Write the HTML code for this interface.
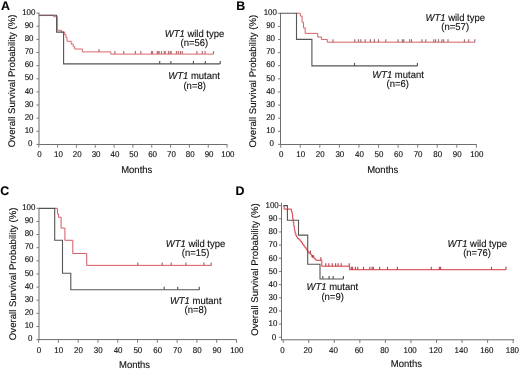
<!DOCTYPE html>
<html><head><meta charset="utf-8"><style>
html,body{margin:0;padding:0;background:#fff;}
body{width:520px;height:369px;overflow:hidden;}
svg{display:block;filter:blur(0.3px);font-family:"Liberation Sans", sans-serif;}
svg text{font-family:"Liberation Sans", sans-serif;text-rendering:geometricPrecision;stroke:#000;stroke-width:0.2px;stroke-opacity:0.6;}
</style></head><body>
<svg width="520" height="369" viewBox="0 0 520 369" font-family="Liberation Sans, sans-serif">
<rect width="520" height="369" fill="#fff"/>
<line x1="39.00" y1="12.70" x2="39.00" y2="144.90" stroke="#6e6e6e" stroke-width="1.0"/>
<line x1="38.50" y1="144.50" x2="227.30" y2="144.50" stroke="#6e6e6e" stroke-width="1.0"/>
<line x1="36.40" y1="144.40" x2="39.00" y2="144.40" stroke="#6e6e6e" stroke-width="0.9"/>
<g transform="translate(30.10,0) scale(0.95,1)"><text x="0" y="146.05" font-size="8.4" text-anchor="middle" font-weight="normal" font-style="normal" fill="#111" >0</text></g>
<line x1="36.40" y1="131.27" x2="39.00" y2="131.27" stroke="#6e6e6e" stroke-width="0.9"/>
<g transform="translate(29.10,0) scale(0.95,1)"><text x="0" y="132.92" font-size="8.4" text-anchor="middle" font-weight="normal" font-style="normal" fill="#111" >10</text></g>
<line x1="36.40" y1="118.14" x2="39.00" y2="118.14" stroke="#6e6e6e" stroke-width="0.9"/>
<g transform="translate(29.10,0) scale(0.95,1)"><text x="0" y="119.79" font-size="8.4" text-anchor="middle" font-weight="normal" font-style="normal" fill="#111" >20</text></g>
<line x1="36.40" y1="105.01" x2="39.00" y2="105.01" stroke="#6e6e6e" stroke-width="0.9"/>
<g transform="translate(29.10,0) scale(0.95,1)"><text x="0" y="106.66" font-size="8.4" text-anchor="middle" font-weight="normal" font-style="normal" fill="#111" >30</text></g>
<line x1="36.40" y1="91.88" x2="39.00" y2="91.88" stroke="#6e6e6e" stroke-width="0.9"/>
<g transform="translate(29.10,0) scale(0.95,1)"><text x="0" y="93.53" font-size="8.4" text-anchor="middle" font-weight="normal" font-style="normal" fill="#111" >40</text></g>
<line x1="36.40" y1="78.75" x2="39.00" y2="78.75" stroke="#6e6e6e" stroke-width="0.9"/>
<g transform="translate(29.10,0) scale(0.95,1)"><text x="0" y="80.40" font-size="8.4" text-anchor="middle" font-weight="normal" font-style="normal" fill="#111" >50</text></g>
<line x1="36.40" y1="65.62" x2="39.00" y2="65.62" stroke="#6e6e6e" stroke-width="0.9"/>
<g transform="translate(29.10,0) scale(0.95,1)"><text x="0" y="67.27" font-size="8.4" text-anchor="middle" font-weight="normal" font-style="normal" fill="#111" >60</text></g>
<line x1="36.40" y1="52.49" x2="39.00" y2="52.49" stroke="#6e6e6e" stroke-width="0.9"/>
<g transform="translate(29.10,0) scale(0.95,1)"><text x="0" y="54.14" font-size="8.4" text-anchor="middle" font-weight="normal" font-style="normal" fill="#111" >70</text></g>
<line x1="36.40" y1="39.36" x2="39.00" y2="39.36" stroke="#6e6e6e" stroke-width="0.9"/>
<g transform="translate(29.10,0) scale(0.95,1)"><text x="0" y="41.01" font-size="8.4" text-anchor="middle" font-weight="normal" font-style="normal" fill="#111" >80</text></g>
<line x1="36.40" y1="26.23" x2="39.00" y2="26.23" stroke="#6e6e6e" stroke-width="0.9"/>
<g transform="translate(29.10,0) scale(0.95,1)"><text x="0" y="27.88" font-size="8.4" text-anchor="middle" font-weight="normal" font-style="normal" fill="#111" >90</text></g>
<line x1="36.40" y1="13.10" x2="39.00" y2="13.10" stroke="#6e6e6e" stroke-width="0.9"/>
<g transform="translate(28.80,0) scale(0.95,1)"><text x="0" y="14.75" font-size="8.4" text-anchor="middle" font-weight="normal" font-style="normal" fill="#111" >100</text></g>
<line x1="38.75" y1="144.50" x2="38.75" y2="147.70" stroke="#6e6e6e" stroke-width="0.9"/>
<g transform="translate(39.55,0) scale(0.95,1)"><text x="0" y="156.50" font-size="8.4" text-anchor="middle" font-weight="normal" font-style="normal" fill="#111" >0</text></g>
<line x1="57.59" y1="144.50" x2="57.59" y2="147.70" stroke="#6e6e6e" stroke-width="0.9"/>
<g transform="translate(58.38,0) scale(0.95,1)"><text x="0" y="156.50" font-size="8.4" text-anchor="middle" font-weight="normal" font-style="normal" fill="#111" >10</text></g>
<line x1="76.42" y1="144.50" x2="76.42" y2="147.70" stroke="#6e6e6e" stroke-width="0.9"/>
<g transform="translate(77.22,0) scale(0.95,1)"><text x="0" y="156.50" font-size="8.4" text-anchor="middle" font-weight="normal" font-style="normal" fill="#111" >20</text></g>
<line x1="95.25" y1="144.50" x2="95.25" y2="147.70" stroke="#6e6e6e" stroke-width="0.9"/>
<g transform="translate(96.05,0) scale(0.95,1)"><text x="0" y="156.50" font-size="8.4" text-anchor="middle" font-weight="normal" font-style="normal" fill="#111" >30</text></g>
<line x1="114.09" y1="144.50" x2="114.09" y2="147.70" stroke="#6e6e6e" stroke-width="0.9"/>
<g transform="translate(114.89,0) scale(0.95,1)"><text x="0" y="156.50" font-size="8.4" text-anchor="middle" font-weight="normal" font-style="normal" fill="#111" >40</text></g>
<line x1="132.93" y1="144.50" x2="132.93" y2="147.70" stroke="#6e6e6e" stroke-width="0.9"/>
<g transform="translate(133.73,0) scale(0.95,1)"><text x="0" y="156.50" font-size="8.4" text-anchor="middle" font-weight="normal" font-style="normal" fill="#111" >50</text></g>
<line x1="151.76" y1="144.50" x2="151.76" y2="147.70" stroke="#6e6e6e" stroke-width="0.9"/>
<g transform="translate(152.56,0) scale(0.95,1)"><text x="0" y="156.50" font-size="8.4" text-anchor="middle" font-weight="normal" font-style="normal" fill="#111" >60</text></g>
<line x1="170.59" y1="144.50" x2="170.59" y2="147.70" stroke="#6e6e6e" stroke-width="0.9"/>
<g transform="translate(171.40,0) scale(0.95,1)"><text x="0" y="156.50" font-size="8.4" text-anchor="middle" font-weight="normal" font-style="normal" fill="#111" >70</text></g>
<line x1="189.43" y1="144.50" x2="189.43" y2="147.70" stroke="#6e6e6e" stroke-width="0.9"/>
<g transform="translate(190.23,0) scale(0.95,1)"><text x="0" y="156.50" font-size="8.4" text-anchor="middle" font-weight="normal" font-style="normal" fill="#111" >80</text></g>
<line x1="208.26" y1="144.50" x2="208.26" y2="147.70" stroke="#6e6e6e" stroke-width="0.9"/>
<g transform="translate(209.06,0) scale(0.95,1)"><text x="0" y="156.50" font-size="8.4" text-anchor="middle" font-weight="normal" font-style="normal" fill="#111" >90</text></g>
<line x1="227.10" y1="144.50" x2="227.10" y2="147.70" stroke="#6e6e6e" stroke-width="0.9"/>
<g transform="translate(227.90,0) scale(0.95,1)"><text x="0" y="156.50" font-size="8.4" text-anchor="middle" font-weight="normal" font-style="normal" fill="#111" >100</text></g>
<g transform="translate(121.20,0) scale(0.96,1)"><text x="0" y="172.60" font-size="9.9" text-anchor="start" font-weight="normal" font-style="normal" fill="#111" >Months</text></g>
<text transform="translate(15.20,80.80) rotate(-90)" x="0" y="0" font-size="9.65" text-anchor="middle" fill="#111">Overall Survival Probability (%)</text>
<text x="1.10" y="10.00" font-size="12.4" text-anchor="start" font-weight="bold" font-style="normal" fill="#000" >A</text>
<line x1="280.50" y1="12.90" x2="280.50" y2="144.90" stroke="#6e6e6e" stroke-width="1.0"/>
<line x1="280.00" y1="144.50" x2="476.70" y2="144.50" stroke="#6e6e6e" stroke-width="1.0"/>
<line x1="277.90" y1="144.40" x2="280.50" y2="144.40" stroke="#6e6e6e" stroke-width="0.9"/>
<g transform="translate(271.60,0) scale(0.95,1)"><text x="0" y="146.05" font-size="8.4" text-anchor="middle" font-weight="normal" font-style="normal" fill="#111" >0</text></g>
<line x1="277.90" y1="131.29" x2="280.50" y2="131.29" stroke="#6e6e6e" stroke-width="0.9"/>
<g transform="translate(270.60,0) scale(0.95,1)"><text x="0" y="132.94" font-size="8.4" text-anchor="middle" font-weight="normal" font-style="normal" fill="#111" >10</text></g>
<line x1="277.90" y1="118.18" x2="280.50" y2="118.18" stroke="#6e6e6e" stroke-width="0.9"/>
<g transform="translate(270.60,0) scale(0.95,1)"><text x="0" y="119.83" font-size="8.4" text-anchor="middle" font-weight="normal" font-style="normal" fill="#111" >20</text></g>
<line x1="277.90" y1="105.07" x2="280.50" y2="105.07" stroke="#6e6e6e" stroke-width="0.9"/>
<g transform="translate(270.60,0) scale(0.95,1)"><text x="0" y="106.72" font-size="8.4" text-anchor="middle" font-weight="normal" font-style="normal" fill="#111" >30</text></g>
<line x1="277.90" y1="91.96" x2="280.50" y2="91.96" stroke="#6e6e6e" stroke-width="0.9"/>
<g transform="translate(270.60,0) scale(0.95,1)"><text x="0" y="93.61" font-size="8.4" text-anchor="middle" font-weight="normal" font-style="normal" fill="#111" >40</text></g>
<line x1="277.90" y1="78.85" x2="280.50" y2="78.85" stroke="#6e6e6e" stroke-width="0.9"/>
<g transform="translate(270.60,0) scale(0.95,1)"><text x="0" y="80.50" font-size="8.4" text-anchor="middle" font-weight="normal" font-style="normal" fill="#111" >50</text></g>
<line x1="277.90" y1="65.74" x2="280.50" y2="65.74" stroke="#6e6e6e" stroke-width="0.9"/>
<g transform="translate(270.60,0) scale(0.95,1)"><text x="0" y="67.39" font-size="8.4" text-anchor="middle" font-weight="normal" font-style="normal" fill="#111" >60</text></g>
<line x1="277.90" y1="52.63" x2="280.50" y2="52.63" stroke="#6e6e6e" stroke-width="0.9"/>
<g transform="translate(270.60,0) scale(0.95,1)"><text x="0" y="54.28" font-size="8.4" text-anchor="middle" font-weight="normal" font-style="normal" fill="#111" >70</text></g>
<line x1="277.90" y1="39.52" x2="280.50" y2="39.52" stroke="#6e6e6e" stroke-width="0.9"/>
<g transform="translate(270.60,0) scale(0.95,1)"><text x="0" y="41.17" font-size="8.4" text-anchor="middle" font-weight="normal" font-style="normal" fill="#111" >80</text></g>
<line x1="277.90" y1="26.41" x2="280.50" y2="26.41" stroke="#6e6e6e" stroke-width="0.9"/>
<g transform="translate(270.60,0) scale(0.95,1)"><text x="0" y="28.06" font-size="8.4" text-anchor="middle" font-weight="normal" font-style="normal" fill="#111" >90</text></g>
<line x1="277.90" y1="13.30" x2="280.50" y2="13.30" stroke="#6e6e6e" stroke-width="0.9"/>
<g transform="translate(270.30,0) scale(0.95,1)"><text x="0" y="14.95" font-size="8.4" text-anchor="middle" font-weight="normal" font-style="normal" fill="#111" >100</text></g>
<line x1="280.70" y1="144.50" x2="280.70" y2="147.70" stroke="#6e6e6e" stroke-width="0.9"/>
<g transform="translate(281.10,0) scale(0.95,1)"><text x="0" y="156.50" font-size="8.4" text-anchor="middle" font-weight="normal" font-style="normal" fill="#111" >0</text></g>
<line x1="300.27" y1="144.50" x2="300.27" y2="147.70" stroke="#6e6e6e" stroke-width="0.9"/>
<g transform="translate(300.67,0) scale(0.95,1)"><text x="0" y="156.50" font-size="8.4" text-anchor="middle" font-weight="normal" font-style="normal" fill="#111" >10</text></g>
<line x1="319.84" y1="144.50" x2="319.84" y2="147.70" stroke="#6e6e6e" stroke-width="0.9"/>
<g transform="translate(320.24,0) scale(0.95,1)"><text x="0" y="156.50" font-size="8.4" text-anchor="middle" font-weight="normal" font-style="normal" fill="#111" >20</text></g>
<line x1="339.41" y1="144.50" x2="339.41" y2="147.70" stroke="#6e6e6e" stroke-width="0.9"/>
<g transform="translate(339.81,0) scale(0.95,1)"><text x="0" y="156.50" font-size="8.4" text-anchor="middle" font-weight="normal" font-style="normal" fill="#111" >30</text></g>
<line x1="358.98" y1="144.50" x2="358.98" y2="147.70" stroke="#6e6e6e" stroke-width="0.9"/>
<g transform="translate(359.38,0) scale(0.95,1)"><text x="0" y="156.50" font-size="8.4" text-anchor="middle" font-weight="normal" font-style="normal" fill="#111" >40</text></g>
<line x1="378.55" y1="144.50" x2="378.55" y2="147.70" stroke="#6e6e6e" stroke-width="0.9"/>
<g transform="translate(378.95,0) scale(0.95,1)"><text x="0" y="156.50" font-size="8.4" text-anchor="middle" font-weight="normal" font-style="normal" fill="#111" >50</text></g>
<line x1="398.12" y1="144.50" x2="398.12" y2="147.70" stroke="#6e6e6e" stroke-width="0.9"/>
<g transform="translate(398.52,0) scale(0.95,1)"><text x="0" y="156.50" font-size="8.4" text-anchor="middle" font-weight="normal" font-style="normal" fill="#111" >60</text></g>
<line x1="417.69" y1="144.50" x2="417.69" y2="147.70" stroke="#6e6e6e" stroke-width="0.9"/>
<g transform="translate(418.09,0) scale(0.95,1)"><text x="0" y="156.50" font-size="8.4" text-anchor="middle" font-weight="normal" font-style="normal" fill="#111" >70</text></g>
<line x1="437.26" y1="144.50" x2="437.26" y2="147.70" stroke="#6e6e6e" stroke-width="0.9"/>
<g transform="translate(437.66,0) scale(0.95,1)"><text x="0" y="156.50" font-size="8.4" text-anchor="middle" font-weight="normal" font-style="normal" fill="#111" >80</text></g>
<line x1="456.83" y1="144.50" x2="456.83" y2="147.70" stroke="#6e6e6e" stroke-width="0.9"/>
<g transform="translate(457.23,0) scale(0.95,1)"><text x="0" y="156.50" font-size="8.4" text-anchor="middle" font-weight="normal" font-style="normal" fill="#111" >90</text></g>
<line x1="476.40" y1="144.50" x2="476.40" y2="147.70" stroke="#6e6e6e" stroke-width="0.9"/>
<g transform="translate(476.80,0) scale(0.95,1)"><text x="0" y="156.50" font-size="8.4" text-anchor="middle" font-weight="normal" font-style="normal" fill="#111" >100</text></g>
<g transform="translate(367.20,0) scale(0.96,1)"><text x="0" y="173.30" font-size="9.9" text-anchor="start" font-weight="normal" font-style="normal" fill="#111" >Months</text></g>
<text transform="translate(256.30,81.10) rotate(-90)" x="0" y="0" font-size="9.65" text-anchor="middle" fill="#111">Overall Survival Probability (%)</text>
<text x="236.20" y="9.80" font-size="12.4" text-anchor="start" font-weight="bold" font-style="normal" fill="#000" >B</text>
<line x1="39.00" y1="207.90" x2="39.00" y2="340.10" stroke="#6e6e6e" stroke-width="1.0"/>
<line x1="38.50" y1="339.60" x2="236.70" y2="339.60" stroke="#6e6e6e" stroke-width="1.0"/>
<line x1="36.40" y1="339.60" x2="39.00" y2="339.60" stroke="#6e6e6e" stroke-width="0.9"/>
<g transform="translate(30.10,0) scale(0.95,1)"><text x="0" y="341.25" font-size="8.4" text-anchor="middle" font-weight="normal" font-style="normal" fill="#111" >0</text></g>
<line x1="36.40" y1="326.47" x2="39.00" y2="326.47" stroke="#6e6e6e" stroke-width="0.9"/>
<g transform="translate(29.10,0) scale(0.95,1)"><text x="0" y="328.12" font-size="8.4" text-anchor="middle" font-weight="normal" font-style="normal" fill="#111" >10</text></g>
<line x1="36.40" y1="313.34" x2="39.00" y2="313.34" stroke="#6e6e6e" stroke-width="0.9"/>
<g transform="translate(29.10,0) scale(0.95,1)"><text x="0" y="314.99" font-size="8.4" text-anchor="middle" font-weight="normal" font-style="normal" fill="#111" >20</text></g>
<line x1="36.40" y1="300.21" x2="39.00" y2="300.21" stroke="#6e6e6e" stroke-width="0.9"/>
<g transform="translate(29.10,0) scale(0.95,1)"><text x="0" y="301.86" font-size="8.4" text-anchor="middle" font-weight="normal" font-style="normal" fill="#111" >30</text></g>
<line x1="36.40" y1="287.08" x2="39.00" y2="287.08" stroke="#6e6e6e" stroke-width="0.9"/>
<g transform="translate(29.10,0) scale(0.95,1)"><text x="0" y="288.73" font-size="8.4" text-anchor="middle" font-weight="normal" font-style="normal" fill="#111" >40</text></g>
<line x1="36.40" y1="273.95" x2="39.00" y2="273.95" stroke="#6e6e6e" stroke-width="0.9"/>
<g transform="translate(29.10,0) scale(0.95,1)"><text x="0" y="275.60" font-size="8.4" text-anchor="middle" font-weight="normal" font-style="normal" fill="#111" >50</text></g>
<line x1="36.40" y1="260.82" x2="39.00" y2="260.82" stroke="#6e6e6e" stroke-width="0.9"/>
<g transform="translate(29.10,0) scale(0.95,1)"><text x="0" y="262.47" font-size="8.4" text-anchor="middle" font-weight="normal" font-style="normal" fill="#111" >60</text></g>
<line x1="36.40" y1="247.69" x2="39.00" y2="247.69" stroke="#6e6e6e" stroke-width="0.9"/>
<g transform="translate(29.10,0) scale(0.95,1)"><text x="0" y="249.34" font-size="8.4" text-anchor="middle" font-weight="normal" font-style="normal" fill="#111" >70</text></g>
<line x1="36.40" y1="234.56" x2="39.00" y2="234.56" stroke="#6e6e6e" stroke-width="0.9"/>
<g transform="translate(29.10,0) scale(0.95,1)"><text x="0" y="236.21" font-size="8.4" text-anchor="middle" font-weight="normal" font-style="normal" fill="#111" >80</text></g>
<line x1="36.40" y1="221.43" x2="39.00" y2="221.43" stroke="#6e6e6e" stroke-width="0.9"/>
<g transform="translate(29.10,0) scale(0.95,1)"><text x="0" y="223.08" font-size="8.4" text-anchor="middle" font-weight="normal" font-style="normal" fill="#111" >90</text></g>
<line x1="36.40" y1="208.30" x2="39.00" y2="208.30" stroke="#6e6e6e" stroke-width="0.9"/>
<g transform="translate(28.80,0) scale(0.95,1)"><text x="0" y="209.95" font-size="8.4" text-anchor="middle" font-weight="normal" font-style="normal" fill="#111" >100</text></g>
<line x1="38.60" y1="339.60" x2="38.60" y2="342.80" stroke="#6e6e6e" stroke-width="0.9"/>
<g transform="translate(38.90,0) scale(0.95,1)"><text x="0" y="352.80" font-size="8.4" text-anchor="middle" font-weight="normal" font-style="normal" fill="#111" >0</text></g>
<line x1="58.39" y1="339.60" x2="58.39" y2="342.80" stroke="#6e6e6e" stroke-width="0.9"/>
<g transform="translate(58.69,0) scale(0.95,1)"><text x="0" y="352.80" font-size="8.4" text-anchor="middle" font-weight="normal" font-style="normal" fill="#111" >10</text></g>
<line x1="78.18" y1="339.60" x2="78.18" y2="342.80" stroke="#6e6e6e" stroke-width="0.9"/>
<g transform="translate(78.48,0) scale(0.95,1)"><text x="0" y="352.80" font-size="8.4" text-anchor="middle" font-weight="normal" font-style="normal" fill="#111" >20</text></g>
<line x1="97.97" y1="339.60" x2="97.97" y2="342.80" stroke="#6e6e6e" stroke-width="0.9"/>
<g transform="translate(98.27,0) scale(0.95,1)"><text x="0" y="352.80" font-size="8.4" text-anchor="middle" font-weight="normal" font-style="normal" fill="#111" >30</text></g>
<line x1="117.76" y1="339.60" x2="117.76" y2="342.80" stroke="#6e6e6e" stroke-width="0.9"/>
<g transform="translate(118.06,0) scale(0.95,1)"><text x="0" y="352.80" font-size="8.4" text-anchor="middle" font-weight="normal" font-style="normal" fill="#111" >40</text></g>
<line x1="137.55" y1="339.60" x2="137.55" y2="342.80" stroke="#6e6e6e" stroke-width="0.9"/>
<g transform="translate(137.85,0) scale(0.95,1)"><text x="0" y="352.80" font-size="8.4" text-anchor="middle" font-weight="normal" font-style="normal" fill="#111" >50</text></g>
<line x1="157.34" y1="339.60" x2="157.34" y2="342.80" stroke="#6e6e6e" stroke-width="0.9"/>
<g transform="translate(157.64,0) scale(0.95,1)"><text x="0" y="352.80" font-size="8.4" text-anchor="middle" font-weight="normal" font-style="normal" fill="#111" >60</text></g>
<line x1="177.13" y1="339.60" x2="177.13" y2="342.80" stroke="#6e6e6e" stroke-width="0.9"/>
<g transform="translate(177.43,0) scale(0.95,1)"><text x="0" y="352.80" font-size="8.4" text-anchor="middle" font-weight="normal" font-style="normal" fill="#111" >70</text></g>
<line x1="196.92" y1="339.60" x2="196.92" y2="342.80" stroke="#6e6e6e" stroke-width="0.9"/>
<g transform="translate(197.22,0) scale(0.95,1)"><text x="0" y="352.80" font-size="8.4" text-anchor="middle" font-weight="normal" font-style="normal" fill="#111" >80</text></g>
<line x1="216.71" y1="339.60" x2="216.71" y2="342.80" stroke="#6e6e6e" stroke-width="0.9"/>
<g transform="translate(217.01,0) scale(0.95,1)"><text x="0" y="352.80" font-size="8.4" text-anchor="middle" font-weight="normal" font-style="normal" fill="#111" >90</text></g>
<line x1="236.50" y1="339.60" x2="236.50" y2="342.80" stroke="#6e6e6e" stroke-width="0.9"/>
<g transform="translate(236.80,0) scale(0.95,1)"><text x="0" y="352.80" font-size="8.4" text-anchor="middle" font-weight="normal" font-style="normal" fill="#111" >100</text></g>
<g transform="translate(119.00,0) scale(0.96,1)"><text x="0" y="367.80" font-size="9.9" text-anchor="start" font-weight="normal" font-style="normal" fill="#111" >Months</text></g>
<text transform="translate(16.00,273.80) rotate(-90)" x="0" y="0" font-size="9.65" text-anchor="middle" fill="#111">Overall Survival Probability (%)</text>
<text x="0.30" y="195.20" font-size="12.4" text-anchor="start" font-weight="bold" font-style="normal" fill="#000" >C</text>
<line x1="281.50" y1="202.80" x2="281.50" y2="340.30" stroke="#6e6e6e" stroke-width="1.0"/>
<line x1="281.00" y1="339.80" x2="514.20" y2="339.80" stroke="#6e6e6e" stroke-width="1.0"/>
<line x1="278.90" y1="337.30" x2="281.50" y2="337.30" stroke="#6e6e6e" stroke-width="0.9"/>
<g transform="translate(274.05,0) scale(0.95,1)"><text x="0" y="339.65" font-size="8.4" text-anchor="middle" font-weight="normal" font-style="normal" fill="#111" >0</text></g>
<line x1="278.90" y1="324.13" x2="281.50" y2="324.13" stroke="#6e6e6e" stroke-width="0.9"/>
<g transform="translate(273.00,0) scale(0.95,1)"><text x="0" y="326.48" font-size="8.4" text-anchor="middle" font-weight="normal" font-style="normal" fill="#111" >10</text></g>
<line x1="278.90" y1="310.96" x2="281.50" y2="310.96" stroke="#6e6e6e" stroke-width="0.9"/>
<g transform="translate(273.00,0) scale(0.95,1)"><text x="0" y="313.31" font-size="8.4" text-anchor="middle" font-weight="normal" font-style="normal" fill="#111" >20</text></g>
<line x1="278.90" y1="297.79" x2="281.50" y2="297.79" stroke="#6e6e6e" stroke-width="0.9"/>
<g transform="translate(273.00,0) scale(0.95,1)"><text x="0" y="300.14" font-size="8.4" text-anchor="middle" font-weight="normal" font-style="normal" fill="#111" >30</text></g>
<line x1="278.90" y1="284.62" x2="281.50" y2="284.62" stroke="#6e6e6e" stroke-width="0.9"/>
<g transform="translate(273.00,0) scale(0.95,1)"><text x="0" y="286.97" font-size="8.4" text-anchor="middle" font-weight="normal" font-style="normal" fill="#111" >40</text></g>
<line x1="278.90" y1="271.45" x2="281.50" y2="271.45" stroke="#6e6e6e" stroke-width="0.9"/>
<g transform="translate(273.00,0) scale(0.95,1)"><text x="0" y="273.80" font-size="8.4" text-anchor="middle" font-weight="normal" font-style="normal" fill="#111" >50</text></g>
<line x1="278.90" y1="258.28" x2="281.50" y2="258.28" stroke="#6e6e6e" stroke-width="0.9"/>
<g transform="translate(273.00,0) scale(0.95,1)"><text x="0" y="260.63" font-size="8.4" text-anchor="middle" font-weight="normal" font-style="normal" fill="#111" >60</text></g>
<line x1="278.90" y1="245.11" x2="281.50" y2="245.11" stroke="#6e6e6e" stroke-width="0.9"/>
<g transform="translate(273.00,0) scale(0.95,1)"><text x="0" y="247.46" font-size="8.4" text-anchor="middle" font-weight="normal" font-style="normal" fill="#111" >70</text></g>
<line x1="278.90" y1="231.94" x2="281.50" y2="231.94" stroke="#6e6e6e" stroke-width="0.9"/>
<g transform="translate(273.00,0) scale(0.95,1)"><text x="0" y="234.29" font-size="8.4" text-anchor="middle" font-weight="normal" font-style="normal" fill="#111" >80</text></g>
<line x1="278.90" y1="218.77" x2="281.50" y2="218.77" stroke="#6e6e6e" stroke-width="0.9"/>
<g transform="translate(273.00,0) scale(0.95,1)"><text x="0" y="221.12" font-size="8.4" text-anchor="middle" font-weight="normal" font-style="normal" fill="#111" >90</text></g>
<line x1="278.90" y1="205.60" x2="281.50" y2="205.60" stroke="#6e6e6e" stroke-width="0.9"/>
<g transform="translate(272.15,0) scale(0.95,1)"><text x="0" y="207.95" font-size="8.4" text-anchor="middle" font-weight="normal" font-style="normal" fill="#111" >100</text></g>
<line x1="283.20" y1="339.80" x2="283.20" y2="343.00" stroke="#6e6e6e" stroke-width="0.9"/>
<g transform="translate(282.40,0) scale(0.95,1)"><text x="0" y="352.60" font-size="8.4" text-anchor="middle" font-weight="normal" font-style="normal" fill="#111" >0</text></g>
<line x1="308.75" y1="339.80" x2="308.75" y2="343.00" stroke="#6e6e6e" stroke-width="0.9"/>
<g transform="translate(307.95,0) scale(0.95,1)"><text x="0" y="352.60" font-size="8.4" text-anchor="middle" font-weight="normal" font-style="normal" fill="#111" >20</text></g>
<line x1="334.30" y1="339.80" x2="334.30" y2="343.00" stroke="#6e6e6e" stroke-width="0.9"/>
<g transform="translate(333.50,0) scale(0.95,1)"><text x="0" y="352.60" font-size="8.4" text-anchor="middle" font-weight="normal" font-style="normal" fill="#111" >40</text></g>
<line x1="359.85" y1="339.80" x2="359.85" y2="343.00" stroke="#6e6e6e" stroke-width="0.9"/>
<g transform="translate(359.05,0) scale(0.95,1)"><text x="0" y="352.60" font-size="8.4" text-anchor="middle" font-weight="normal" font-style="normal" fill="#111" >60</text></g>
<line x1="385.40" y1="339.80" x2="385.40" y2="343.00" stroke="#6e6e6e" stroke-width="0.9"/>
<g transform="translate(384.60,0) scale(0.95,1)"><text x="0" y="352.60" font-size="8.4" text-anchor="middle" font-weight="normal" font-style="normal" fill="#111" >80</text></g>
<line x1="410.95" y1="339.80" x2="410.95" y2="343.00" stroke="#6e6e6e" stroke-width="0.9"/>
<g transform="translate(410.15,0) scale(0.95,1)"><text x="0" y="352.60" font-size="8.4" text-anchor="middle" font-weight="normal" font-style="normal" fill="#111" >100</text></g>
<line x1="436.50" y1="339.80" x2="436.50" y2="343.00" stroke="#6e6e6e" stroke-width="0.9"/>
<g transform="translate(435.70,0) scale(0.95,1)"><text x="0" y="352.60" font-size="8.4" text-anchor="middle" font-weight="normal" font-style="normal" fill="#111" >120</text></g>
<line x1="462.05" y1="339.80" x2="462.05" y2="343.00" stroke="#6e6e6e" stroke-width="0.9"/>
<g transform="translate(461.25,0) scale(0.95,1)"><text x="0" y="352.60" font-size="8.4" text-anchor="middle" font-weight="normal" font-style="normal" fill="#111" >140</text></g>
<line x1="487.60" y1="339.80" x2="487.60" y2="343.00" stroke="#6e6e6e" stroke-width="0.9"/>
<g transform="translate(486.80,0) scale(0.95,1)"><text x="0" y="352.60" font-size="8.4" text-anchor="middle" font-weight="normal" font-style="normal" fill="#111" >160</text></g>
<line x1="513.15" y1="339.80" x2="513.15" y2="343.00" stroke="#6e6e6e" stroke-width="0.9"/>
<g transform="translate(512.35,0) scale(0.95,1)"><text x="0" y="352.60" font-size="8.4" text-anchor="middle" font-weight="normal" font-style="normal" fill="#111" >180</text></g>
<g transform="translate(390.80,0) scale(0.96,1)"><text x="0" y="367.30" font-size="9.9" text-anchor="start" font-weight="normal" font-style="normal" fill="#111" >Months</text></g>
<text transform="translate(257.80,269.50) rotate(-90)" x="0" y="0" font-size="9.65" text-anchor="middle" fill="#111">Overall Survival Probability (%)</text>
<text x="235.60" y="195.00" font-size="12.4" text-anchor="start" font-weight="bold" font-style="normal" fill="#000" >D</text>
<polyline points="38.80,15.30 53.60,15.30 53.60,16.70 57.30,16.70 57.30,30.30 61.60,30.30 61.60,32.20 64.60,32.20 64.60,34.60 66.00,34.60 66.00,37.50 67.00,37.50 67.00,41.30 71.30,41.30 71.30,44.20 73.30,44.20 73.30,46.60 74.70,46.60 74.70,49.00 82.40,49.00 82.40,51.90 110.80,51.90 110.80,54.10 213.70,54.10 213.70,54.10" fill="none" stroke="#ff5050" stroke-opacity="0.07" stroke-width="2.2" stroke-linejoin="miter"/>
<polyline points="38.80,15.30 53.60,15.30 53.60,16.70 57.30,16.70 57.30,30.30 61.60,30.30 61.60,32.20 64.60,32.20 64.60,34.60 66.00,34.60 66.00,37.50 67.00,37.50 67.00,41.30 71.30,41.30 71.30,44.20 73.30,44.20 73.30,46.60 74.70,46.60 74.70,49.00 82.40,49.00 82.40,51.90 110.80,51.90 110.80,54.10 213.70,54.10 213.70,54.10" fill="none" stroke="#d8737a" stroke-width="1.0" stroke-linejoin="miter"/>
<line x1="99.00" y1="51.90" x2="99.00" y2="48.90" stroke="#b86a70" stroke-width="1.15"/>
<line x1="114.90" y1="54.10" x2="114.90" y2="51.10" stroke="#b86a70" stroke-width="1.15"/>
<line x1="123.70" y1="54.10" x2="123.70" y2="51.10" stroke="#b86a70" stroke-width="1.15"/>
<line x1="135.40" y1="54.10" x2="135.40" y2="51.10" stroke="#b86a70" stroke-width="1.15"/>
<line x1="140.80" y1="54.10" x2="140.80" y2="51.10" stroke="#b86a70" stroke-width="1.15"/>
<line x1="151.50" y1="54.10" x2="151.50" y2="51.10" stroke="#b86a70" stroke-width="1.15"/>
<line x1="152.50" y1="54.10" x2="152.50" y2="51.10" stroke="#b86a70" stroke-width="1.15"/>
<line x1="157.20" y1="54.10" x2="157.20" y2="51.10" stroke="#b86a70" stroke-width="1.15"/>
<line x1="158.30" y1="54.10" x2="158.30" y2="51.10" stroke="#b86a70" stroke-width="1.15"/>
<line x1="159.10" y1="54.10" x2="159.10" y2="51.10" stroke="#b86a70" stroke-width="1.15"/>
<line x1="161.50" y1="54.10" x2="161.50" y2="51.10" stroke="#b86a70" stroke-width="1.15"/>
<line x1="164.20" y1="54.10" x2="164.20" y2="51.10" stroke="#b86a70" stroke-width="1.15"/>
<line x1="165.20" y1="54.10" x2="165.20" y2="51.10" stroke="#b86a70" stroke-width="1.15"/>
<line x1="168.50" y1="54.10" x2="168.50" y2="51.10" stroke="#b86a70" stroke-width="1.15"/>
<line x1="170.20" y1="54.10" x2="170.20" y2="51.10" stroke="#b86a70" stroke-width="1.15"/>
<line x1="171.20" y1="54.10" x2="171.20" y2="51.10" stroke="#b86a70" stroke-width="1.15"/>
<line x1="176.40" y1="54.10" x2="176.40" y2="51.10" stroke="#b86a70" stroke-width="1.15"/>
<line x1="178.30" y1="54.10" x2="178.30" y2="51.10" stroke="#b86a70" stroke-width="1.15"/>
<line x1="180.40" y1="54.10" x2="180.40" y2="51.10" stroke="#b86a70" stroke-width="1.15"/>
<line x1="182.30" y1="54.10" x2="182.30" y2="51.10" stroke="#b86a70" stroke-width="1.15"/>
<line x1="196.90" y1="54.10" x2="196.90" y2="51.10" stroke="#b86a70" stroke-width="1.15"/>
<line x1="202.30" y1="54.10" x2="202.30" y2="51.10" stroke="#b86a70" stroke-width="1.15"/>
<line x1="205.10" y1="54.10" x2="205.10" y2="51.10" stroke="#b86a70" stroke-width="1.15"/>
<line x1="213.50" y1="54.10" x2="213.50" y2="51.10" stroke="#b86a70" stroke-width="1.15"/>
<polyline points="38.80,15.30 56.60,15.30 56.60,32.10 63.60,32.10 63.60,63.90 220.20,63.90 220.20,63.90" fill="none" stroke="#555555" stroke-width="1.1" stroke-linejoin="miter"/>
<line x1="159.70" y1="63.90" x2="159.70" y2="60.90" stroke="#555555" stroke-width="1.15"/>
<line x1="170.90" y1="63.90" x2="170.90" y2="60.90" stroke="#555555" stroke-width="1.15"/>
<line x1="193.40" y1="63.90" x2="193.40" y2="60.90" stroke="#555555" stroke-width="1.15"/>
<line x1="205.30" y1="63.90" x2="205.30" y2="60.90" stroke="#555555" stroke-width="1.15"/>
<line x1="220.20" y1="63.90" x2="220.20" y2="60.90" stroke="#555555" stroke-width="1.15"/>
<polyline points="296.50,13.30 300.40,13.30 300.40,16.10 302.10,16.10 302.10,22.20 303.50,22.20 303.50,27.90 305.20,27.90 305.20,33.40 317.70,33.40 317.70,37.00 321.50,37.00 321.50,39.50 327.30,39.50 327.30,42.20 475.00,42.20 475.00,42.20" fill="none" stroke="#ff5050" stroke-opacity="0.07" stroke-width="2.2" stroke-linejoin="miter"/>
<polyline points="296.50,13.30 300.40,13.30 300.40,16.10 302.10,16.10 302.10,22.20 303.50,22.20 303.50,27.90 305.20,27.90 305.20,33.40 317.70,33.40 317.70,37.00 321.50,37.00 321.50,39.50 327.30,39.50 327.30,42.20 475.00,42.20 475.00,42.20" fill="none" stroke="#d66a72" stroke-width="1.0" stroke-linejoin="miter"/>
<line x1="333.00" y1="42.20" x2="333.00" y2="39.20" stroke="#9a7074" stroke-width="1.15"/>
<line x1="354.80" y1="42.20" x2="354.80" y2="39.20" stroke="#9a7074" stroke-width="1.15"/>
<line x1="358.50" y1="42.20" x2="358.50" y2="39.20" stroke="#9a7074" stroke-width="1.15"/>
<line x1="360.80" y1="42.20" x2="360.80" y2="39.20" stroke="#9a7074" stroke-width="1.15"/>
<line x1="365.20" y1="42.20" x2="365.20" y2="39.20" stroke="#9a7074" stroke-width="1.15"/>
<line x1="370.40" y1="42.20" x2="370.40" y2="39.20" stroke="#9a7074" stroke-width="1.15"/>
<line x1="374.40" y1="42.20" x2="374.40" y2="39.20" stroke="#9a7074" stroke-width="1.15"/>
<line x1="378.50" y1="42.20" x2="378.50" y2="39.20" stroke="#9a7074" stroke-width="1.15"/>
<line x1="385.80" y1="42.20" x2="385.80" y2="39.20" stroke="#9a7074" stroke-width="1.15"/>
<line x1="398.10" y1="42.20" x2="398.10" y2="39.20" stroke="#9a7074" stroke-width="1.15"/>
<line x1="402.40" y1="42.20" x2="402.40" y2="39.20" stroke="#9a7074" stroke-width="1.15"/>
<line x1="403.80" y1="42.20" x2="403.80" y2="39.20" stroke="#9a7074" stroke-width="1.15"/>
<line x1="409.60" y1="42.20" x2="409.60" y2="39.20" stroke="#9a7074" stroke-width="1.15"/>
<line x1="411.50" y1="42.20" x2="411.50" y2="39.20" stroke="#9a7074" stroke-width="1.15"/>
<line x1="421.90" y1="42.20" x2="421.90" y2="39.20" stroke="#9a7074" stroke-width="1.15"/>
<line x1="425.80" y1="42.20" x2="425.80" y2="39.20" stroke="#9a7074" stroke-width="1.15"/>
<line x1="433.80" y1="42.20" x2="433.80" y2="39.20" stroke="#9a7074" stroke-width="1.15"/>
<line x1="435.60" y1="42.20" x2="435.60" y2="39.20" stroke="#9a7074" stroke-width="1.15"/>
<line x1="438.50" y1="42.20" x2="438.50" y2="39.20" stroke="#9a7074" stroke-width="1.15"/>
<line x1="441.90" y1="42.20" x2="441.90" y2="39.20" stroke="#9a7074" stroke-width="1.15"/>
<line x1="443.70" y1="42.20" x2="443.70" y2="39.20" stroke="#9a7074" stroke-width="1.15"/>
<line x1="448.00" y1="42.20" x2="448.00" y2="39.20" stroke="#9a7074" stroke-width="1.15"/>
<line x1="464.40" y1="42.20" x2="464.40" y2="39.20" stroke="#9a7074" stroke-width="1.15"/>
<line x1="468.70" y1="42.20" x2="468.70" y2="39.20" stroke="#9a7074" stroke-width="1.15"/>
<line x1="474.80" y1="42.20" x2="474.80" y2="39.20" stroke="#9a7074" stroke-width="1.15"/>
<polyline points="280.40,13.30 296.50,13.30 296.50,39.40 311.90,39.40 311.90,65.90 417.50,65.90 417.50,65.90" fill="none" stroke="#555555" stroke-width="1.1" stroke-linejoin="miter"/>
<line x1="354.50" y1="65.90" x2="354.50" y2="62.90" stroke="#555555" stroke-width="1.15"/>
<line x1="417.40" y1="65.90" x2="417.40" y2="62.90" stroke="#555555" stroke-width="1.15"/>
<polyline points="54.70,208.40 57.50,208.40 57.50,214.00 58.50,214.00 58.50,217.30 61.10,217.30 61.10,228.10 64.90,228.10 64.90,240.30 72.80,240.30 72.80,253.50 86.70,253.50 86.70,265.40 211.30,265.40 211.30,265.40" fill="none" stroke="#ff5050" stroke-opacity="0.07" stroke-width="2.2" stroke-linejoin="miter"/>
<polyline points="54.70,208.40 57.50,208.40 57.50,214.00 58.50,214.00 58.50,217.30 61.10,217.30 61.10,228.10 64.90,228.10 64.90,240.30 72.80,240.30 72.80,253.50 86.70,253.50 86.70,265.40 211.30,265.40 211.30,265.40" fill="none" stroke="#d6626e" stroke-width="1.0" stroke-linejoin="miter"/>
<line x1="137.80" y1="265.40" x2="137.80" y2="262.40" stroke="#a8606a" stroke-width="1.15"/>
<line x1="162.20" y1="265.40" x2="162.20" y2="262.40" stroke="#a8606a" stroke-width="1.15"/>
<line x1="171.20" y1="265.40" x2="171.20" y2="262.40" stroke="#a8606a" stroke-width="1.15"/>
<line x1="185.90" y1="265.40" x2="185.90" y2="262.40" stroke="#a8606a" stroke-width="1.15"/>
<line x1="203.90" y1="265.40" x2="203.90" y2="262.40" stroke="#a8606a" stroke-width="1.15"/>
<line x1="211.20" y1="265.40" x2="211.20" y2="262.40" stroke="#a8606a" stroke-width="1.15"/>
<polyline points="38.80,208.40 54.70,208.40 54.70,240.20 62.50,240.20 62.50,273.20 70.80,273.20 70.80,289.70 199.50,289.70 199.50,289.70" fill="none" stroke="#555555" stroke-width="1.1" stroke-linejoin="miter"/>
<line x1="164.20" y1="289.70" x2="164.20" y2="286.70" stroke="#555555" stroke-width="1.15"/>
<line x1="177.70" y1="289.70" x2="177.70" y2="286.70" stroke="#555555" stroke-width="1.15"/>
<line x1="199.30" y1="289.70" x2="199.30" y2="286.70" stroke="#555555" stroke-width="1.15"/>
<polyline points="283.50,205.60 284.10,205.60 284.10,209.10 291.40,209.10 291.40,211.50 292.10,211.50 292.10,214.00 292.60,214.00 292.60,218.50 293.20,218.50 293.20,222.50 293.80,222.50 293.80,226.50 294.40,226.50 294.40,230.00 295.00,230.00 295.00,233.00 295.80,233.00 295.80,235.50 296.60,235.50 296.60,237.00 297.50,237.00 297.50,238.50 299.00,238.50 299.00,239.70 300.20,239.70 300.20,241.00 301.30,241.00 301.30,242.60 302.50,242.60 302.50,244.40 303.80,244.40 303.80,246.20 305.00,246.20 305.00,247.80 306.20,247.80 306.20,249.40 307.20,249.40 307.20,250.90 308.20,250.90 308.20,252.30 309.30,252.30 309.30,253.30 310.30,253.30 310.30,254.30 311.50,254.30 311.50,255.60 312.70,255.60 312.70,256.80 313.90,256.80 313.90,258.20 315.10,258.20 315.10,259.60 316.20,259.60 316.20,260.30 321.80,260.30 321.80,266.20 349.60,266.20 349.60,269.70 506.00,269.70 506.00,269.70" fill="none" stroke="#ff5050" stroke-opacity="0.07" stroke-width="2.2" stroke-linejoin="miter"/>
<polyline points="283.50,205.60 284.10,205.60 284.10,209.10 291.40,209.10 291.40,211.50 292.10,211.50 292.10,214.00 292.60,214.00 292.60,218.50 293.20,218.50 293.20,222.50 293.80,222.50 293.80,226.50 294.40,226.50 294.40,230.00 295.00,230.00 295.00,233.00 295.80,233.00 295.80,235.50 296.60,235.50 296.60,237.00 297.50,237.00 297.50,238.50 299.00,238.50 299.00,239.70 300.20,239.70 300.20,241.00 301.30,241.00 301.30,242.60 302.50,242.60 302.50,244.40 303.80,244.40 303.80,246.20 305.00,246.20 305.00,247.80 306.20,247.80 306.20,249.40 307.20,249.40 307.20,250.90 308.20,250.90 308.20,252.30 309.30,252.30 309.30,253.30 310.30,253.30 310.30,254.30 311.50,254.30 311.50,255.60 312.70,255.60 312.70,256.80 313.90,256.80 313.90,258.20 315.10,258.20 315.10,259.60 316.20,259.60 316.20,260.30 321.80,260.30 321.80,266.20 349.60,266.20 349.60,269.70 506.00,269.70 506.00,269.70" fill="none" stroke="#d4424e" stroke-width="1.0" stroke-linejoin="miter"/>
<line x1="320.80" y1="260.30" x2="320.80" y2="257.30" stroke="#b84854" stroke-width="1.15"/>
<circle cx="312.8" cy="256.4" r="1.3" fill="#c83a44"/>
<line x1="310.40" y1="253.60" x2="310.40" y2="250.60" stroke="#b84854" stroke-width="1.15"/>
<line x1="325.80" y1="266.20" x2="325.80" y2="263.20" stroke="#b84854" stroke-width="1.15"/>
<line x1="328.80" y1="266.20" x2="328.80" y2="263.20" stroke="#b84854" stroke-width="1.15"/>
<line x1="332.30" y1="266.20" x2="332.30" y2="263.20" stroke="#b84854" stroke-width="1.15"/>
<line x1="335.60" y1="266.20" x2="335.60" y2="263.20" stroke="#b84854" stroke-width="1.15"/>
<line x1="338.10" y1="266.20" x2="338.10" y2="263.20" stroke="#b84854" stroke-width="1.15"/>
<line x1="341.20" y1="266.20" x2="341.20" y2="263.20" stroke="#b84854" stroke-width="1.15"/>
<line x1="349.20" y1="266.20" x2="349.20" y2="263.20" stroke="#b84854" stroke-width="1.15"/>
<line x1="351.30" y1="269.70" x2="351.30" y2="266.70" stroke="#b84854" stroke-width="1.15"/>
<line x1="352.50" y1="269.70" x2="352.50" y2="266.70" stroke="#b84854" stroke-width="1.15"/>
<line x1="355.40" y1="269.70" x2="355.40" y2="266.70" stroke="#b84854" stroke-width="1.15"/>
<line x1="357.70" y1="269.70" x2="357.70" y2="266.70" stroke="#b84854" stroke-width="1.15"/>
<line x1="363.50" y1="269.70" x2="363.50" y2="266.70" stroke="#b84854" stroke-width="1.15"/>
<line x1="369.80" y1="269.70" x2="369.80" y2="266.70" stroke="#b84854" stroke-width="1.15"/>
<line x1="372.10" y1="269.70" x2="372.10" y2="266.70" stroke="#b84854" stroke-width="1.15"/>
<line x1="373.30" y1="269.70" x2="373.30" y2="266.70" stroke="#b84854" stroke-width="1.15"/>
<line x1="379.60" y1="269.70" x2="379.60" y2="266.70" stroke="#b84854" stroke-width="1.15"/>
<line x1="387.50" y1="269.70" x2="387.50" y2="266.70" stroke="#b84854" stroke-width="1.15"/>
<line x1="397.40" y1="269.70" x2="397.40" y2="266.70" stroke="#b84854" stroke-width="1.15"/>
<line x1="431.30" y1="269.70" x2="431.30" y2="266.70" stroke="#b84854" stroke-width="1.15"/>
<line x1="439.40" y1="269.70" x2="439.40" y2="266.70" stroke="#b84854" stroke-width="1.15"/>
<line x1="440.60" y1="269.70" x2="440.60" y2="266.70" stroke="#b84854" stroke-width="1.15"/>
<line x1="491.50" y1="269.70" x2="491.50" y2="266.70" stroke="#b84854" stroke-width="1.15"/>
<line x1="506.00" y1="269.70" x2="506.00" y2="266.70" stroke="#b84854" stroke-width="1.15"/>
<polyline points="283.50,205.60 287.40,205.60 287.40,220.30 298.50,220.30 298.50,235.10 307.70,235.10 307.70,264.20 320.00,264.20 320.00,279.00 343.50,279.00 343.50,279.00" fill="none" stroke="#555555" stroke-width="1.1" stroke-linejoin="miter"/>
<line x1="322.80" y1="279.00" x2="322.80" y2="276.00" stroke="#555555" stroke-width="1.15"/>
<line x1="329.10" y1="279.00" x2="329.10" y2="276.00" stroke="#555555" stroke-width="1.15"/>
<line x1="333.20" y1="279.00" x2="333.20" y2="276.00" stroke="#555555" stroke-width="1.15"/>
<line x1="343.40" y1="279.00" x2="343.40" y2="276.00" stroke="#555555" stroke-width="1.15"/>
<g transform="translate(194.50,0) scale(0.96,1)"><text x="0" y="36.60" font-size="9.9" text-anchor="middle" fill="#111"><tspan font-style="italic">WT1</tspan> wild type</text></g>
<g transform="translate(194.40,0) scale(0.96,1)"><text x="0" y="46.20" font-size="9.9" text-anchor="middle" font-weight="normal" font-style="normal" fill="#111" >(n=56)</text></g>
<g transform="translate(194.10,0) scale(0.96,1)"><text x="0" y="79.10" font-size="9.9" text-anchor="middle" fill="#111"><tspan font-style="italic">WT1</tspan> mutant</text></g>
<g transform="translate(194.65,0) scale(0.96,1)"><text x="0" y="88.70" font-size="9.9" text-anchor="middle" font-weight="normal" font-style="normal" fill="#111" >(n=8)</text></g>
<g transform="translate(455.25,0) scale(0.96,1)"><text x="0" y="20.90" font-size="9.9" text-anchor="middle" fill="#111"><tspan font-style="italic">WT1</tspan> wild type</text></g>
<g transform="translate(455.20,0) scale(0.96,1)"><text x="0" y="30.40" font-size="9.9" text-anchor="middle" font-weight="normal" font-style="normal" fill="#111" >(n=57)</text></g>
<g transform="translate(398.00,0) scale(0.96,1)"><text x="0" y="77.60" font-size="9.9" text-anchor="middle" fill="#111"><tspan font-style="italic">WT1</tspan> mutant</text></g>
<g transform="translate(397.80,0) scale(0.96,1)"><text x="0" y="87.20" font-size="9.9" text-anchor="middle" font-weight="normal" font-style="normal" fill="#111" >(n=6)</text></g>
<g transform="translate(195.50,0) scale(0.96,1)"><text x="0" y="246.80" font-size="9.9" text-anchor="middle" fill="#111"><tspan font-style="italic">WT1</tspan> wild type</text></g>
<g transform="translate(195.60,0) scale(0.96,1)"><text x="0" y="256.40" font-size="9.9" text-anchor="middle" font-weight="normal" font-style="normal" fill="#111" >(n=15)</text></g>
<g transform="translate(195.70,0) scale(0.96,1)"><text x="0" y="303.60" font-size="9.9" text-anchor="middle" fill="#111"><tspan font-style="italic">WT1</tspan> mutant</text></g>
<g transform="translate(195.70,0) scale(0.96,1)"><text x="0" y="313.20" font-size="9.9" text-anchor="middle" font-weight="normal" font-style="normal" fill="#111" >(n=8)</text></g>
<g transform="translate(477.20,0) scale(0.96,1)"><text x="0" y="246.70" font-size="9.9" text-anchor="middle" fill="#111"><tspan font-style="italic">WT1</tspan> wild type</text></g>
<g transform="translate(477.00,0) scale(0.96,1)"><text x="0" y="256.30" font-size="9.9" text-anchor="middle" font-weight="normal" font-style="normal" fill="#111" >(n=76)</text></g>
<g transform="translate(332.30,0) scale(0.96,1)"><text x="0" y="289.90" font-size="9.9" text-anchor="middle" fill="#111"><tspan font-style="italic">WT1</tspan> mutant</text></g>
<g transform="translate(332.60,0) scale(0.96,1)"><text x="0" y="299.50" font-size="9.9" text-anchor="middle" font-weight="normal" font-style="normal" fill="#111" >(n=9)</text></g>
</svg>
</body></html>
